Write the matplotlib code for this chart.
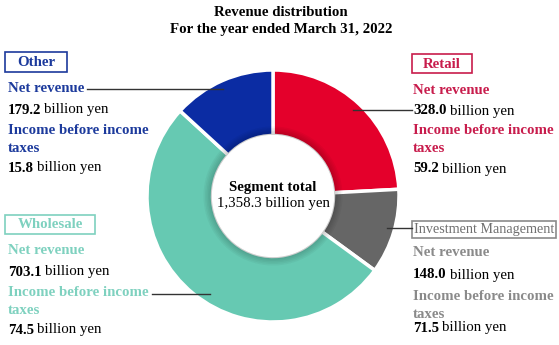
import matplotlib.pyplot as plt
from matplotlib.patches import Rectangle, Circle

plt.rcParams['font.family'] = ['Liberation Serif', 'DejaVu Serif']

# Data
segments = ['Retail', 'Investment Management', 'Wholesale', 'Other']
net_revenue = [328.0, 148.0, 703.1, 179.2]
income_before_tax = [59.2, 71.5, 74.5, 15.8]
wedge_colors = ['#E4002B', '#666666', '#66C9B2', '#0B2CA3']
text_colors = ['#C81C4C', '#8A8A8A', '#7ED1BF', '#1C3A9C']
total = 1358.3

fig = plt.figure(figsize=(5.59, 3.45), dpi=100)

# Donut
cx, cy, r = 273, 196, 126
W, H = 559, 345
pax = fig.add_axes([(cx - r) / W, (H - cy - r) / H, 2 * r / W, 2 * r / H])
pax.pie(net_revenue, colors=wedge_colors, startangle=90, counterclock=False,
        radius=1, wedgeprops=dict(width=0.52, edgecolor='white', linewidth=2.5))
# soft shadow round the hole
for k in range(6):
    pax.add_patch(Circle((0, 0), 0.48 + 0.012 * (6 - k), color='black',
                         alpha=0.035, lw=0, zorder=3))
pax.add_patch(Circle((0, 0), 0.48, color='white', zorder=4))
pax.set_xlim(-1, 1)
pax.set_ylim(-1, 1)
pax.set_aspect('equal')
pax.axis('off')

# Overlay in pixel coordinates
ax = fig.add_axes([0, 0, 1, 1], facecolor='none')
ax.set_xlim(0, W)
ax.set_ylim(H, 0)
ax.axis('off')

fs = 10.7
ax.text(281, 12, 'Revenue distribution', ha='center', va='center',
        fontsize=fs, fontweight='bold')
ax.text(281, 29, 'For the year ended March 31, 2022', ha='center', va='center',
        fontsize=fs, fontweight='bold')

ax.text(cx, 188, 'Segment total', ha='center', va='center', fontsize=fs,
        fontweight='bold', zorder=5)
ax.text(cx, 204, f'{total:,.1f} billion yen', ha='center', va='center',
        fontsize=fs, zorder=5)


def amount(x, y, val):
    t = ax.text(x, y, f'{val:.1f}', ha='left', va='center', fontsize=fs,
                fontweight='bold')
    ax.annotate('billion yen', xy=(1, 0), xycoords=t, xytext=(3, 0),
                textcoords='offset pixels', ha='left', va='bottom', fontsize=fs)


def block(i, x, box, ys, bold_box=True, box_fs=fs):
    c = text_colors[i]
    bx0, by0, bx1, by1 = box
    ax.add_patch(Rectangle((bx0, by0), bx1 - bx0, by1 - by0, fill=False,
                           edgecolor=c, lw=1.2))
    ax.text((bx0 + bx1) / 2, (by0 + by1) / 2 + 0.5, segments[i], ha='center',
            va='center', fontsize=box_fs,
            color=c if bold_box else '#707070',
            fontweight='bold' if bold_box else 'normal')
    ax.text(x, ys[0], 'Net revenue', ha='left', va='center', fontsize=fs,
            color=c, fontweight='bold')
    amount(x, ys[1], net_revenue[i])
    ax.text(x, ys[2], 'Income before income', ha='left', va='center',
            fontsize=fs, color=c, fontweight='bold')
    ax.text(x, ys[3], 'taxes', ha='left', va='center', fontsize=fs,
            color=c, fontweight='bold')
    amount(x, ys[4], income_before_tax[i])


block(3, 8, (5, 52, 67, 72), [89, 110, 131, 149, 168])
block(2, 8, (5, 215, 95, 234), [251, 272, 293, 310, 330])
block(0, 413, (412, 54, 472, 73), [91, 111, 131, 149, 169])
block(1, 413, (412, 221, 556, 238), [253, 275, 297, 314, 328],
      bold_box=False, box_fs=10.2)

# leader lines
lc = '#333333'
ax.plot([87, 223], [89, 89], color=lc, lw=1)
ax.plot([353, 412], [110, 110], color=lc, lw=1)
ax.plot([387, 412], [228, 228], color=lc, lw=1)
ax.plot([152, 210], [294, 294], color=lc, lw=1)

fig.savefig('out.png', dpi=100)
